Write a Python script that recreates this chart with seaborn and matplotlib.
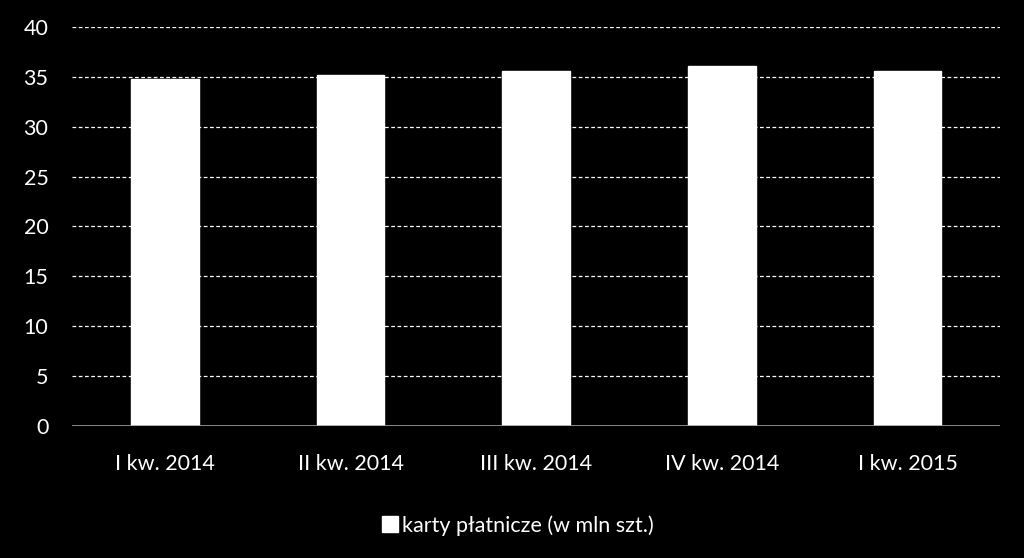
import matplotlib
matplotlib.use('Agg')
import matplotlib.pyplot as plt
import seaborn as sns
import pandas as pd

# dane do wykresu
kwartaly = ['I kw. 2014', 'II kw. 2014', 'III kw. 2014', 'IV kw. 2014', 'I kw. 2015']
karty = [34.8, 35.2, 35.6, 36.1, 35.6]
seria = 'karty płatnicze (w mln szt.)'

df = pd.DataFrame({'kwartal': kwartaly, 'wartosc': karty})

sns.set_style('dark')
plt.rcParams['font.family'] = ['Lato', 'DejaVu Sans']

fig = plt.figure(figsize=(10.24, 5.58), dpi=100, facecolor='black')
ax = fig.add_axes([0.0703, 0.2366, 0.9067, 0.715])
ax.set_facecolor('black')

sns.barplot(data=df, x='kwartal', y='wartosc', color='white', width=0.365,
            saturation=1, ax=ax, label=seria, zorder=3)

ax.set_ylim(0, 40)
ax.set_xlim(-0.5, 4.5)
ax.set_yticks(range(0, 41, 5))
for y in range(5, 41, 5):
    ax.axhline(y, color='white', linestyle=(0, (3, 2)), linewidth=0.9, zorder=1)
ax.axhline(0, color='#a0a0a0', linewidth=1.2, zorder=4)

for s in ax.spines.values():
    s.set_visible(False)
ax.grid(False)
ax.set_xlabel('')
ax.set_ylabel('')
ax.tick_params(axis='both', colors='white', labelsize=15.5, length=0)
ax.tick_params(axis='x', pad=20)
ax.tick_params(axis='y', pad=17)

leg = ax.legend(loc='upper center', bbox_to_anchor=(0.48, -0.175), frameon=False,
                fontsize=15.5, handlelength=0.75, handleheight=0.75, handletextpad=0.2)
for t in leg.get_texts():
    t.set_color('white')

fig.savefig('out.png', dpi=100, facecolor='black')
